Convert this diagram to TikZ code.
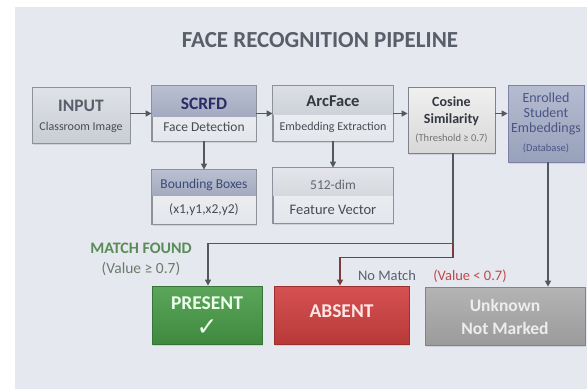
\documentclass[tikz,border=0pt]{standalone}
\usepackage{fontspec}
\setmainfont{Carlito}
\newfontfamily\symfont{DejaVu Sans}
\usetikzlibrary{arrows.meta,calc,shadows}
\definecolor{panel}{HTML}{E5E8EE}
\definecolor{conn}{HTML}{53575E}
\definecolor{connred}{HTML}{7A3C40}
\definecolor{bord}{HTML}{8C919B}
\definecolor{inTop}{HTML}{DFE2E7}\definecolor{inBot}{HTML}{C9CDD4}
\definecolor{hbTop}{HTML}{BAC0D1}\definecolor{hbBot}{HTML}{A3AABF}
\definecolor{hgTop}{HTML}{DCDFE5}\definecolor{hgBot}{HTML}{CDD1D8}
\definecolor{lowTop}{HTML}{F1F2F5}\definecolor{lowBot}{HTML}{E3E6EB}
\definecolor{coTop}{HTML}{F0F0F0}\definecolor{coBot}{HTML}{D8D8D8}
\definecolor{enTop}{HTML}{B5BCD1}\definecolor{enBot}{HTML}{98A1BB}
\definecolor{prTop}{HTML}{5CA65C}\definecolor{prBot}{HTML}{3F8A3F}
\definecolor{abTop}{HTML}{D65252}\definecolor{abBot}{HTML}{B83838}
\definecolor{ukTop}{HTML}{B4B4B4}\definecolor{ukBot}{HTML}{9B9B9B}
\definecolor{titlec}{HTML}{585E6A}
\definecolor{darktxt}{HTML}{33373F}
\definecolor{subtxt}{HTML}{474B53}
\definecolor{bluetxt}{HTML}{3A4878}
\definecolor{entxt}{HTML}{4A5585}
\definecolor{greenlbl}{HTML}{5A8C5A}
\definecolor{greylbl}{HTML}{6B7A6B}
\definecolor{nomatch}{HTML}{586172}
\definecolor{redlbl}{HTML}{C0474B}
\begin{document}
\begin{tikzpicture}[x=1pt,y=1pt,
  shadowed/.style={drop shadow={opacity=0.22,shadow xshift=1.2pt,shadow yshift=-1.5pt}},
  boxbase/.style={rectangle,inner sep=0pt,line width=0.8pt,shadowed},
  txt/.style={inner sep=0pt,anchor=base},
  conn/.style={draw=conn,line width=1.4pt,-{Triangle[length=6pt,width=6pt]}},
  connr/.style={draw=connred,line width=1.4pt,-{Triangle[length=6pt,width=6pt]}}]
\useasboundingbox (0,0) rectangle (587,-389);
\fill[white] (0,0) rectangle (587,-389);
\fill[panel] (15,-7) rectangle (587,-389);

% title
\node[txt,anchor=base,text=titlec,font=\bfseries\fontsize{23}{26}\selectfont] (title) at (320,-47) {FACE RECOGNITION PIPELINE};

% INPUT
\node[boxbase,draw=bord,top color=inTop,bottom color=inBot,minimum width=98,minimum height=56] (input) at (81,-115) {};
\node[txt,text=titlec,font=\bfseries\fontsize{17.5}{20}\selectfont] (inputt) at ($(input.north)+(0,-24.5)$) {INPUT};
\node[txt,text=subtxt,font=\fontsize{12}{14}\selectfont] (inputs) at ($(input.north)+(0,-44)$) {Classroom Image};

% SCRFD
\node[boxbase,draw=bord,top color=lowTop,bottom color=lowBot,minimum width=104,minimum height=55] (scrfd) at (204,-113.5) {};
\shade[top color=hbTop,bottom color=hbBot] (scrfd.north west) rectangle ($(scrfd.north east)+(0,-31)$);
\draw[bord,line width=0.8pt] (scrfd.north west) rectangle (scrfd.south east);
\node[txt,text=darktxt!80!blue,font=\bfseries\fontsize{17.5}{20}\selectfont] (scrfdt) at ($(scrfd.north)+(0,-24)$) {SCRFD};
\node[txt,text=subtxt,font=\fontsize{13.5}{16}\selectfont] (scrfds) at ($(scrfd.north)+(0,-46)$) {Face Detection};

% Bounding boxes
\node[boxbase,draw=bord,top color=lowTop,bottom color=lowBot,minimum width=104,minimum height=54] (bbox) at (204,-197) {};
\shade[top color=hbTop,bottom color=hbBot] (bbox.north west) rectangle ($(bbox.north east)+(0,-26)$);
\draw[bord,line width=0.8pt] (bbox.north west) rectangle (bbox.south east);
\node[txt,text=bluetxt,font=\fontsize{13.5}{16}\selectfont] (bboxt) at ($(bbox.north)+(0,-19)$) {Bounding Boxes};
\node[txt,text=subtxt,font=\fontsize{13.5}{16}\selectfont] (bboxs) at ($(bbox.north)+(0,-44)$) {(x1,y1,x2,y2)};

% ArcFace
\node[boxbase,draw=bord,top color=lowTop,bottom color=lowBot,minimum width=120,minimum height=55] (arc) at (333,-113.5) {};
\shade[top color=hgTop,bottom color=hgBot] (arc.north west) rectangle ($(arc.north east)+(0,-29)$);
\draw[bord,line width=0.8pt] (arc.north west) rectangle (arc.south east);
\node[txt,text=darktxt,font=\bfseries\fontsize{16.5}{19}\selectfont] (arct) at ($(arc.north)+(0,-20.5)$) {ArcFace};
\node[txt,text=subtxt,font=\fontsize{12}{14}\selectfont] (arcs) at ($(arc.north)+(0,-45)$) {Embedding Extraction};

% 512-dim
\node[boxbase,draw=bord,top color=lowTop,bottom color=lowBot,minimum width=120,minimum height=55] (vec) at (333,-195.5) {};
\shade[top color=hgTop!80!white,bottom color=hgBot!85!white] (vec.north west) rectangle ($(vec.north east)+(0,-28)$);
\draw[bord,line width=0.8pt] (vec.north west) rectangle (vec.south east);
\node[txt,text=subtxt!85!white,font=\fontsize{13.5}{16}\selectfont] (vect) at ($(vec.north)+(0,-21.5)$) {512-dim};
\node[txt,text=subtxt,font=\fontsize{14.5}{17}\selectfont] (vecs) at ($(vec.north)+(0,-47)$) {Feature Vector};

% Cosine
\node[boxbase,draw=bord!90!black,top color=coTop,bottom color=coBot,minimum width=87,minimum height=66] (cos) at (451.5,-120) {};
\node[txt,text=darktxt,font=\bfseries\fontsize{14}{16}\selectfont] (cost1) at ($(cos.north)+(0,-19.5)$) {Cosine};
\node[txt,text=darktxt,font=\bfseries\fontsize{14}{16}\selectfont] (cost2) at ($(cos.north)+(0,-37)$) {Similarity};
\node[txt,text=black!55,font=\fontsize{10.5}{12}\selectfont] (cost3) at ($(cos.north)+(0,-55)$) {(Threshold ≥ 0.7)};

% Enrolled
\node[boxbase,draw=bord!90!blue,top color=enTop,bottom color=enBot,minimum width=76,minimum height=77] (enr) at (546,-123.5) {};
\node[txt,text=entxt,font=\fontsize{14}{16}\selectfont] (enr1) at ($(enr.north)+(0,-18)$) {Enrolled};
\node[txt,text=entxt,font=\fontsize{14}{16}\selectfont] (enr2) at ($(enr.north)+(0,-33)$) {Student};
\node[txt,text=entxt,font=\fontsize{14}{16}\selectfont] (enr3) at ($(enr.north)+(0,-47.5)$) {Embeddings};
\node[txt,text=entxt,font=\fontsize{10.5}{12}\selectfont] (enr4) at ($(enr.north)+(0,-67)$) {(Database)};

% outcome boxes
\node[boxbase,draw=prBot!85!black,top color=prTop,bottom color=prBot,minimum width=110,minimum height=58] (present) at (207,-315) {};
\node[txt,text=white!92!green,font=\bfseries\fontsize{19.5}{22}\selectfont] (prt) at ($(present.north)+(0,-24)$) {PRESENT};
\node[txt,text=white!92!green,font=\symfont\fontsize{25}{26}\selectfont] (prc) at ($(present.north)+(0,-50)$) {✓};

\node[boxbase,draw=abBot!85!black,top color=abTop,bottom color=abBot,minimum width=135,minimum height=58] (absent) at (341.5,-315) {};
\node[txt,text=white!90!red,font=\bfseries\fontsize{19.5}{22}\selectfont] (abt) at ($(absent.north)+(0,-32)$) {ABSENT};

\node[boxbase,draw=ukBot!85!black,top color=ukTop,bottom color=ukBot,minimum width=160,minimum height=58] (unk) at (505,-316) {};
\node[txt,text=white!93!black,font=\bfseries\fontsize{17.5}{20}\selectfont] (unk1) at ($(unk.north)+(0,-25)$) {Unknown};
\node[txt,text=white!93!black,font=\bfseries\fontsize{17.5}{20}\selectfont] (unk2) at ($(unk.north)+(0,-48)$) {Not Marked};

% labels
\node[txt,text=greenlbl,font=\bfseries\fontsize{16}{18}\selectfont] (mf) at (141,-253) {MATCH FOUND};
\node[txt,text=greylbl,font=\fontsize{15.5}{18}\selectfont] (mfv) at (141,-273) {(Value ≥ 0.7)};
\node[txt,text=nomatch,font=\fontsize{14.5}{17}\selectfont] (nm) at (387,-280) {No Match};
\node[txt,text=redlbl,font=\fontsize{14.5}{17}\selectfont] (nmv) at (470,-280) {(Value < 0.7)};

% connectors
\draw[conn] (input.east |- scrfd.west) -- (scrfd.west);
\draw[conn] (scrfd.east) -- (arc.west);
\draw[conn] (arc.east) -- (cos.west |- arc.east);
\draw[conn] (cos.east |- arc.east) -- (enr.west |- arc.east);
\draw[conn] (scrfd.south) -- (bbox.north);
\draw[conn] (arc.south) -- (vec.north);
\coordinate (csrc) at ($(cos.south)+(1.5,0)$);
\draw[connr] (csrc) -- ++(0,-104) -| ($(absent.north)+(-1.5,0)$);
\draw[conn] (csrc) -- ++(0,-90) -| ($(present.north)+(1,0)$);
\coordinate (esrc) at ($(enr.south)+(2,0)$);
\draw[conn] (esrc) -- (esrc |- unk.north);
\end{tikzpicture}
\end{document}
